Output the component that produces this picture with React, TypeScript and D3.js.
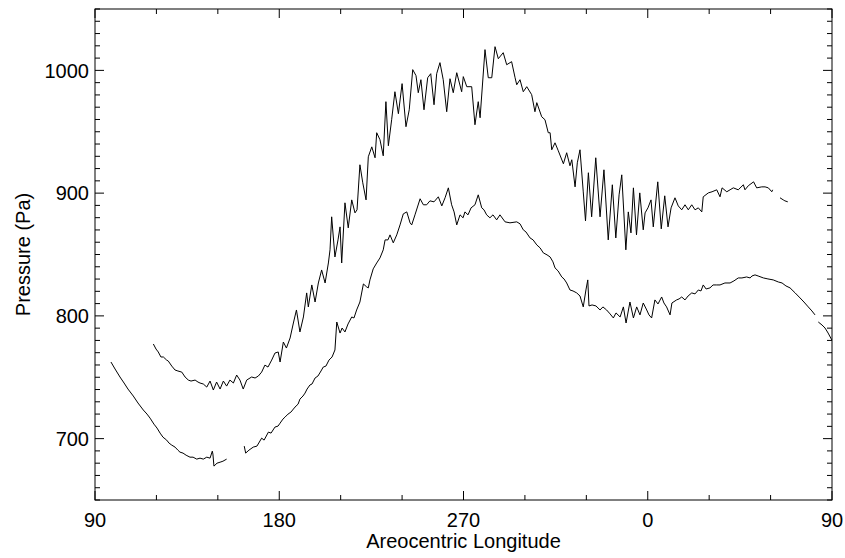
import React from "react";
import * as d3 from "d3";

const width = 845;
const height = 558;
const margin = { top: 9, right: 13, bottom: 58, left: 95 };

// x is areocentric longitude unwrapped (90..450), labels wrap back to 0..90
const xMajorTicks = [90, 180, 270, 360, 450];
const xTickLabels = ["90", "180", "270", "0", "90"];
const xMinorTicks = [120, 150, 210, 240, 300, 330, 390, 420];
const yMajorTicks = [700, 800, 900, 1000];

// upper curve [Ls, Pa]
const upperMain: [number, number][] = [
  [118.5, 777.1], [119.8, 773.0], [120.9, 770.6], [122.2, 766.5], [123.4, 766.5], [125.0, 764.0],
  [125.8, 763.2], [127.5, 759.1], [129.1, 755.9], [130.5, 755.1], [132.4, 754.2], [134.0, 750.2],
  [135.6, 747.7], [136.9, 746.9], [138.9, 747.7], [140.3, 746.1], [141.3, 745.3], [142.9, 744.5],
  [144.6, 742.0], [146.2, 746.9], [147.8, 739.6], [149.4, 746.1], [151.1, 740.4], [152.7, 746.9],
  [154.3, 742.8], [155.9, 747.7], [157.6, 745.3], [159.2, 751.8], [160.8, 747.7], [162.4, 740.4],
  [164.1, 747.7], [166.5, 750.2], [168.2, 749.4], [169.8, 751.0], [171.4, 754.2], [173.0, 759.9],
  [174.5, 758.3], [176.3, 764.0], [177.9, 769.7], [179.5, 770.6], [180.4, 762.4], [182.0, 778.7],
  [183.5, 773.8], [185.3, 782.0], [186.9, 794.2], [188.4, 804.8], [190.1, 786.9], [191.8, 799.1],
  [193.4, 818.7], [194.2, 807.3], [195.9, 825.2], [197.5, 811.3], [199.1, 826.8], [200.7, 837.4],
  [202.4, 826.8], [204.0, 843.1], [204.8, 853.8], [205.6, 880.7], [207.2, 848.0], [208.7, 861.9],
  [209.7, 872.5], [210.5, 843.1], [212.1, 892.1], [213.7, 871.7], [215.4, 894.5], [217.0, 883.9],
  [218.0, 886.4], [219.4, 923.1], [220.8, 908.4], [222.4, 894.5], [223.5, 929.6], [225.2, 937.7],
  [226.8, 928.8], [227.6, 949.2], [229.2, 943.5], [230.8, 930.4], [232.1, 974.5], [233.3, 938.6],
  [234.9, 959.8], [236.5, 982.6], [238.2, 964.7], [240.0, 989.2], [241.9, 954.1], [243.5, 967.9],
  [245.2, 1000.6], [246.8, 995.7], [247.9, 981.8], [249.2, 992.4], [250.7, 967.9], [252.5, 994.0],
  [254.0, 997.3], [255.6, 972.0], [256.9, 997.3], [258.5, 1006.3], [260.1, 992.4], [261.8, 966.3],
  [263.4, 993.2], [265.0, 981.8], [266.7, 998.1], [269.1, 982.6], [269.9, 994.9], [271.6, 986.7],
  [274.0, 986.7], [275.6, 955.7], [277.2, 974.5], [278.1, 961.4], [280.5, 1016.9], [282.1, 994.0],
  [283.8, 994.0], [285.4, 1019.3], [287.0, 1009.5], [289.4, 1014.4], [291.1, 1004.6], [293.5, 1007.1],
  [295.2, 994.0], [296.0, 988.3], [297.6, 992.4], [299.2, 982.6], [300.9, 986.7], [303.3, 980.2],
  [304.9, 966.3], [305.8, 973.7], [308.2, 962.2], [309.8, 959.8], [311.4, 949.2], [312.3, 949.2],
  [313.1, 935.3], [314.7, 941.0], [316.3, 934.5], [318.8, 923.9], [320.4, 932.9], [322.0, 922.3],
  [322.9, 927.2], [324.5, 905.1], [325.6, 924.7], [326.9, 935.3], [328.5, 901.0], [329.6, 877.4],
  [331.0, 916.6], [332.6, 880.7], [334.6, 928.8], [336.7, 880.7], [338.6, 919.0], [340.7, 861.9],
  [342.7, 906.8], [344.4, 863.5], [346.0, 898.6], [347.3, 914.9], [349.3, 853.8], [350.5, 884.7],
  [351.8, 867.6], [353.0, 904.3], [354.5, 866.0], [356.1, 900.2], [357.8, 870.1], [358.7, 883.9],
  [360.1, 888.0], [361.6, 894.5], [362.7, 872.5], [364.9, 909.2], [366.6, 870.9], [368.3, 897.8],
  [369.9, 872.5], [371.4, 888.0], [373.3, 896.2], [374.9, 889.6], [376.6, 886.4], [378.2, 890.5],
  [379.8, 886.4], [381.5, 890.5], [383.1, 886.4], [384.7, 888.0], [386.4, 884.7], [387.1, 897.0],
  [389.6, 900.2], [391.4, 901.1], [393.7, 902.7], [395.3, 897.0], [396.3, 904.3], [398.6, 901.1],
  [400.2, 902.7], [401.8, 904.3], [404.2, 902.7], [406.7, 906.8], [407.5, 902.7], [409.1, 906.0],
  [411.7, 909.2], [413.2, 904.3], [415.7, 905.1], [417.3, 905.1], [418.9, 904.3], [420.6, 901.1],
  [421.0, 902.7],
];
const upperTail: [number, number][] = [
  [424.6, 896.2], [426.2, 894.5], [427.0, 893.7], [428.4, 892.9],
];

// lower curve [Ls, Pa]
const lowerFirst: [number, number][] = [
  [97.8, 762.4], [99.8, 756.7], [102.2, 750.2], [104.2, 745.3], [106.1, 740.4], [108.7, 734.7],
  [111.0, 729.0], [113.6, 723.3], [115.4, 720.0], [116.9, 716.7], [118.8, 711.8], [120.3, 708.6],
  [121.8, 704.5], [123.2, 701.2], [125.0, 698.8], [126.2, 696.3], [127.5, 694.7], [129.1, 693.1],
  [130.5, 690.6], [131.5, 689.0], [133.0, 688.2], [134.5, 686.5], [136.4, 684.9], [137.9, 684.9],
  [139.7, 683.3], [141.3, 684.1], [142.9, 683.3], [144.6, 684.9], [146.2, 684.1], [147.3, 689.8],
  [147.6, 687.4], [148.1, 677.6], [149.6, 680.0], [151.1, 680.8], [152.5, 681.6], [154.3, 683.3],
];
const lowerMain: [number, number][] = [
  [162.9, 693.9], [163.6, 688.2], [165.2, 690.6], [167.3, 693.1], [169.1, 693.9], [171.4, 700.4],
  [172.6, 698.8], [174.7, 705.3], [176.0, 704.5], [177.9, 709.4], [179.4, 710.2], [180.4, 712.6],
  [181.8, 715.9], [182.8, 717.5], [184.3, 720.0], [185.7, 721.6], [187.7, 725.7], [189.2, 728.1],
  [190.1, 732.2], [191.6, 734.7], [192.6, 737.1], [193.6, 740.4], [195.0, 743.7], [196.0, 744.5],
  [197.5, 749.4], [198.9, 751.0], [200.4, 755.1], [201.5, 758.3], [202.8, 759.1], [204.3, 764.0],
  [205.8, 766.5], [207.2, 772.2], [208.1, 795.0], [209.7, 786.0], [210.7, 790.1], [212.1, 786.9],
  [213.6, 793.4], [215.4, 799.1], [216.5, 798.3], [217.8, 804.8], [219.4, 811.3], [221.1, 826.0],
  [222.7, 823.6], [223.5, 822.8], [224.3, 829.3], [225.9, 838.3], [227.6, 843.1], [229.2, 847.2],
  [230.8, 853.8], [231.7, 861.9], [233.1, 861.9], [234.1, 866.0], [235.7, 859.5], [237.4, 866.0],
  [239.0, 874.1], [240.6, 883.1], [242.3, 884.7], [243.9, 875.8], [244.7, 874.1], [246.3, 882.3],
  [248.8, 895.4], [250.4, 890.5], [252.0, 890.5], [253.6, 893.7], [255.6, 892.9], [257.7, 897.0],
  [259.4, 889.6], [261.0, 896.2], [262.6, 904.3], [264.2, 890.5], [265.4, 884.7], [266.7, 874.1],
  [268.3, 882.3], [269.8, 879.9], [270.7, 884.7], [272.2, 882.3], [273.7, 888.0], [275.6, 890.5],
  [277.2, 898.6], [278.9, 888.0], [280.0, 886.4], [281.3, 882.3], [282.9, 879.9], [284.4, 882.3],
  [286.2, 878.2], [287.8, 882.3], [290.3, 876.6], [292.7, 875.8], [296.0, 876.6], [297.6, 875.0],
  [299.2, 870.1], [300.5, 868.4], [302.5, 863.5], [304.0, 861.9], [305.8, 857.8], [307.4, 855.4],
  [309.0, 851.3], [310.8, 849.7], [312.3, 848.0], [313.7, 844.0], [314.7, 839.1], [316.2, 836.6],
  [318.0, 831.7], [319.1, 830.1], [320.4, 826.8], [322.0, 821.1], [323.5, 820.3], [325.3, 818.7],
  [326.9, 816.2], [328.5, 807.3], [329.8, 821.1], [330.7, 829.3], [331.3, 808.1], [332.8, 808.9],
  [334.7, 808.1], [336.7, 804.8], [338.1, 807.3], [339.9, 804.8], [341.6, 801.6], [343.2, 798.3],
  [344.5, 802.4], [346.5, 799.1], [348.1, 807.3], [349.4, 794.2], [351.3, 811.3], [353.0, 798.3],
  [354.6, 807.3], [356.2, 800.8], [357.8, 810.5], [359.5, 804.8], [360.6, 800.8], [361.9, 798.3],
  [363.5, 813.0], [365.0, 809.7], [366.8, 815.4], [367.9, 810.5], [369.2, 807.3], [370.9, 800.8],
  [371.8, 810.5], [374.1, 813.0], [375.3, 813.8], [376.6, 815.4], [378.2, 813.0], [379.7, 816.2],
  [381.5, 818.7], [383.1, 817.9], [384.7, 821.1], [386.0, 820.3], [387.1, 825.2], [388.5, 821.9],
  [390.4, 822.8], [391.9, 825.2], [393.7, 825.2], [395.3, 825.2], [397.7, 826.8], [400.2, 826.8],
  [402.1, 828.5], [404.2, 830.9], [406.0, 830.9], [408.3, 831.7], [410.0, 830.9], [410.9, 832.5],
  [412.4, 833.4], [413.9, 832.5], [416.5, 830.9], [418.7, 830.1], [421.3, 829.3], [423.8, 827.6],
  [425.6, 826.8], [427.5, 824.4], [429.5, 822.8], [432.0, 818.7], [434.4, 814.6], [436.3, 811.3],
  [438.4, 807.3], [440.2, 804.0], [441.7, 800.8],
];
const lowerTail: [number, number][] = [
  [443.3, 795.0], [445.1, 792.6], [446.6, 790.1], [448.1, 786.0], [449.9, 780.4],
];

const segments = [upperMain, upperTail, lowerFirst, lowerMain, lowerTail];

const font = "'Liberation Sans', Arial, Helvetica, sans-serif";

export default function App() {
  const innerW = width - margin.left - margin.right;
  const innerH = height - margin.top - margin.bottom;

  const x = d3.scaleLinear().domain([90, 450]).range([0, innerW]);
  const y = d3.scaleLinear().domain([650, 1050]).range([innerH, 0]);

  const line = d3
    .line<[number, number]>()
    .x((d) => x(d[0]))
    .y((d) => y(d[1]));

  const yMinor = d3.range(650, 1051, 10).filter((v) => v % 100 !== 0);

  const major = 9;
  const minor = 5;

  return (
    <svg
      width={width}
      height={height}
      style={{ position: "absolute", left: 0, top: 0, background: "#fff" }}
    >
      <g transform={`translate(${margin.left},${margin.top})`}>
        {segments.map((seg, i) => (
          <path key={i} d={line(seg) ?? ""} fill="none" stroke="#000" strokeWidth={1} />
        ))}

        {/* frame */}
        <rect x={0} y={0} width={innerW} height={innerH} fill="none" stroke="#000" strokeWidth={1} />

        {/* x ticks, bottom and top */}
        {xMajorTicks.map((t, i) => (
          <g key={"xm" + i}>
            <line x1={x(t)} x2={x(t)} y1={innerH} y2={innerH - major} stroke="#000" />
            <line x1={x(t)} x2={x(t)} y1={0} y2={major} stroke="#000" />
            <text
              x={x(t)}
              y={innerH + 27}
              textAnchor="middle"
              fontFamily={font}
              fontSize={20}
            >
              {xTickLabels[i]}
            </text>
          </g>
        ))}
        {xMinorTicks.map((t, i) => (
          <g key={"xn" + i}>
            <line x1={x(t)} x2={x(t)} y1={innerH} y2={innerH - minor} stroke="#000" />
            <line x1={x(t)} x2={x(t)} y1={0} y2={minor} stroke="#000" />
          </g>
        ))}

        {/* y ticks, left and right */}
        {yMajorTicks.map((t, i) => (
          <g key={"ym" + i}>
            <line x1={0} x2={major} y1={y(t)} y2={y(t)} stroke="#000" />
            <line x1={innerW} x2={innerW - major} y1={y(t)} y2={y(t)} stroke="#000" />
            <text
              x={-6}
              y={y(t)}
              dy="0.36em"
              textAnchor="end"
              fontFamily={font}
              fontSize={20}
            >
              {t}
            </text>
          </g>
        ))}
        {yMinor.map((t, i) => (
          <g key={"yn" + i}>
            <line x1={0} x2={minor} y1={y(t)} y2={y(t)} stroke="#000" />
            <line x1={innerW} x2={innerW - minor} y1={y(t)} y2={y(t)} stroke="#000" />
          </g>
        ))}

        <text
          x={innerW / 2}
          y={innerH + 48}
          textAnchor="middle"
          fontFamily={font}
          fontSize={20}
        >
          Areocentric Longitude
        </text>
        <text
          transform={`translate(${30 - margin.left},${innerH / 2}) rotate(-90)`}
          textAnchor="middle"
          fontFamily={font}
          fontSize={20}
        >
          Pressure (Pa)
        </text>
      </g>
    </svg>
  );
}
